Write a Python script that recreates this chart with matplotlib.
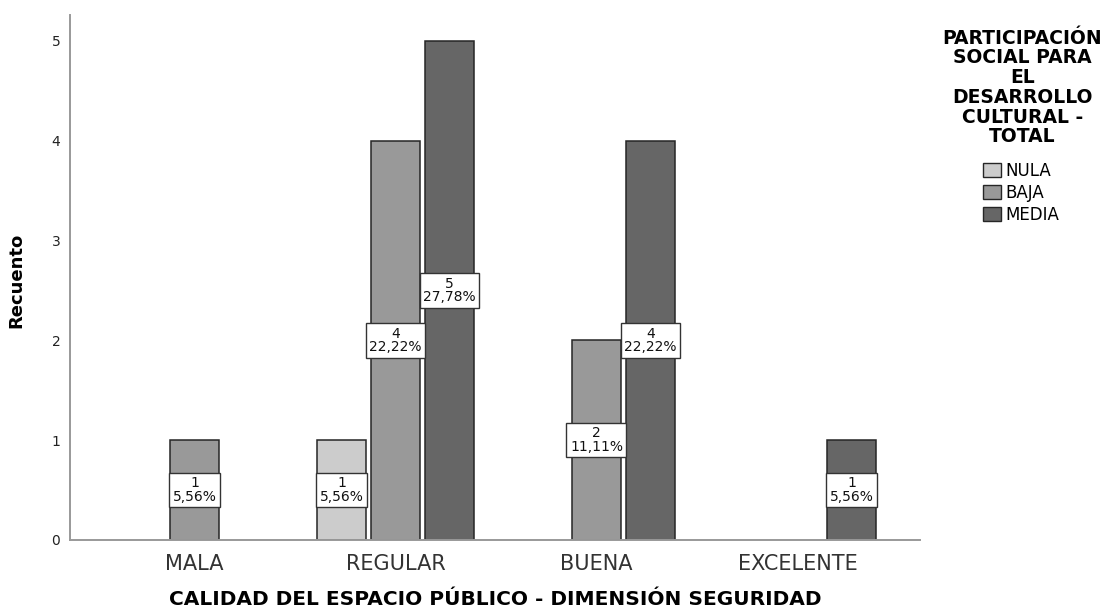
import matplotlib
matplotlib.use("Agg")
import matplotlib.pyplot as plt
from matplotlib.patches import Patch

categories = ["MALA", "REGULAR", "BUENA", "EXCELENTE"]
series_names = ["NULA", "BAJA", "MEDIA"]
nula = [0, 1, 0, 0]
baja = [1, 4, 2, 0]
media = [0, 5, 4, 1]
percent = {"NULA": ["", "5,56%", "", ""],
           "BAJA": ["5,56%", "22,22%", "11,11%", ""],
           "MEDIA": ["", "27,78%", "22,22%", "5,56%"]}
colors = ["#cccccc", "#999999", "#666666"]
legend_title = "PARTICIPACIÓN\nSOCIAL PARA\nEL\nDESARROLLO\nCULTURAL -\nTOTAL"

plt.rcParams['font.family'] = ['DejaVu Sans']

fig = plt.figure(figsize=(11.2, 6.1), dpi=100)
ax = fig.add_axes([0.0625, 0.1148, 0.7589, 0.8607])

slot = 0.269
width = 0.244
values = [nula, baja, media]
for si, (name, vals, col) in enumerate(zip(series_names, values, colors)):
    for ci, v in enumerate(vals):
        if v <= 0:
            continue
        x = ci + (si - 1) * slot
        ax.bar(x, v, width=width, color=col, edgecolor="#262626", linewidth=1.1, zorder=2)
        ax.text(x, v / 2, f"{v}\n{percent[name][ci]}", ha="center", va="center",
                fontsize=10, color="#111111", linespacing=0.95, zorder=3,
                bbox=dict(boxstyle="square,pad=0.25", facecolor="white",
                          edgecolor="#333333", linewidth=1.0))

ax.set_xlim(-0.62, 3.61)
ax.set_ylim(0, 5.26)
ax.set_xticks(range(len(categories)))
ax.set_xticklabels(categories, fontsize=15, color="#333333")
ax.set_yticks([0, 1, 2, 3, 4, 5])
ax.tick_params(axis='y', labelsize=10, labelcolor="#222222", length=0, pad=7)
ax.tick_params(axis='x', length=0, pad=10)
for s in ["top", "right"]:
    ax.spines[s].set_visible(False)
for s in ["left", "bottom"]:
    ax.spines[s].set_color("#999999")
    ax.spines[s].set_linewidth(1.4)

ax.set_ylabel("Recuento", fontsize=13, fontweight="bold")
ax.yaxis.set_label_coords(-0.053, 0.495)
xl = ax.set_xlabel("CALIDAD DEL ESPACIO PÚBLICO - DIMENSIÓN SEGURIDAD",
                   fontsize=14.5, fontweight="bold", va="baseline")
ax.xaxis.set_label_coords(0.5, -0.124)

fig.text(0.913, 0.953, legend_title,
         ha="center", va="top", fontsize=13.5, fontweight="bold", linespacing=1.05)
handles = [Patch(facecolor=c, edgecolor="#262626", label=n) for n, c in zip(series_names, colors)]
fig.legend(handles=handles, loc="upper left", bbox_to_anchor=(0.878, 0.735),
           frameon=False, fontsize=12, handlelength=1.05, handleheight=0.95,
           handletextpad=0.25, labelspacing=0.25, borderpad=0, borderaxespad=0)

fig.savefig("out.png", dpi=100)
